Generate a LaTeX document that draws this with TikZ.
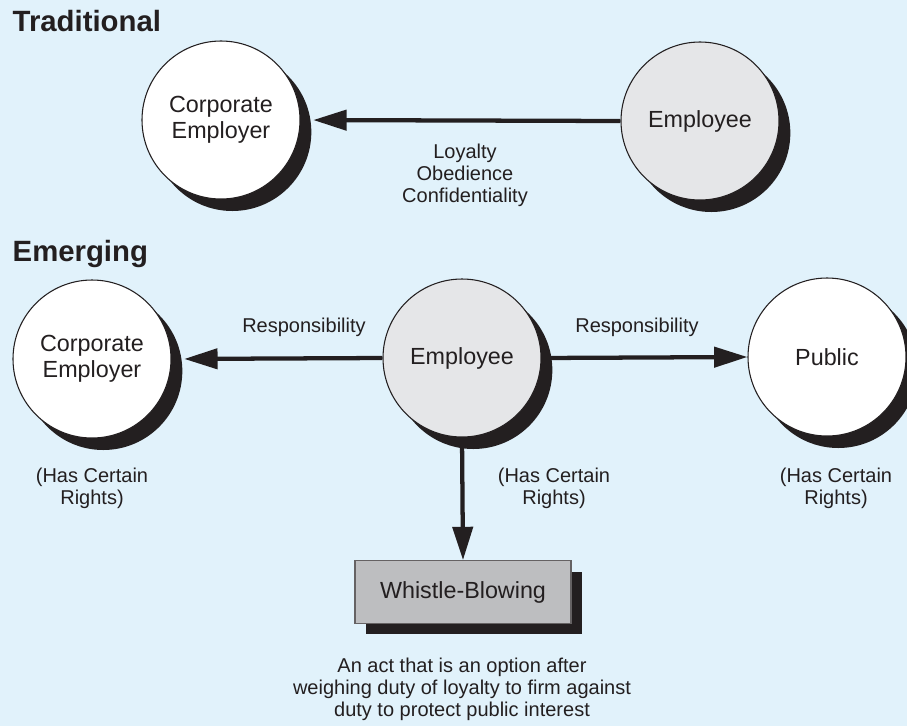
\documentclass[tikz,border=0pt]{standalone}
\usepackage{fontspec}
\setmainfont{Liberation Sans}
\usetikzlibrary{positioning, arrows.meta, shadows}
\definecolor{bgblue}{HTML}{E1F2FB}
\definecolor{ink}{HTML}{231F20}
\definecolor{empgray}{HTML}{E5E6E8}
\definecolor{boxgray}{HTML}{BDBEC0}

\begin{document}
\begin{tikzpicture}[
  x=0.75pt, y=-0.75pt,
  party/.style={circle, draw=ink, line width=0.8pt, fill=white,
    minimum size=118.5pt, inner sep=0pt, align=center, text=ink,
    font=\fontsize{17.5}{19.5}\selectfont,
    drop shadow={shadow xshift=8.5pt, shadow yshift=-9pt, fill=ink, opacity=1}},
  act/.style={rectangle, draw=ink!70, line width=0.8pt, fill=boxgray,
    minimum width=162pt, minimum height=47pt, text=ink,
    font=\fontsize{17.5}{19.5}\selectfont,
    drop shadow={shadow xshift=8.25pt, shadow yshift=-8.25pt, fill=ink, opacity=1}},
  lbl/.style={align=center, text=ink, font=\fontsize{15}{16.5}\selectfont},
  heading/.style={anchor=base west, text=ink, font=\fontsize{22}{26}\selectfont\bfseries},
  conn/.style={draw=ink, line width=3.2pt, -{Triangle[length=25pt, width=15pt]}},
]
  \useasboundingbox (0,0) rectangle (907,726);
  \clip (0,0) rectangle (907,726);
  \fill[bgblue] (0,0) rectangle (907,726);

  % traditional view
  \node[heading] (trad) at (8,31) {Traditional};
  \node[party] (tcorp) at (221,120) {Corporate\\Employer};
  \node[party, fill=empgray] (temp) at (700,121) {Employee};
  \draw[conn, shorten >=9.5pt] (temp.west) -- (tcorp.east);
  \node[lbl] (duties) at (465,175) {Loyalty\\Obedience\\Confidentiality};

  % emerging view
  \node[heading] (emer) at (8,261) {Emerging};
  \node[party] (ecorp) at (92,359) {Corporate\\Employer};
  \node[party, fill=empgray] (eemp) at (462,358) {Employee};
  \node[party] (pub) at (827,357) {Public};
  \node[act] (whistle) at (463,592) {Whistle-Blowing};

  \draw[conn, shorten >=9.5pt] (eemp.west) -- (ecorp.east);
  \draw[conn] (eemp.east) -- (pub.west);
  \draw[conn] (eemp.south) -- (whistle.north);

  \node[lbl] (resl) at (304,327) {Responsibility};
  \node[lbl] (resr) at (637,327) {Responsibility};
  \node[lbl] (rcorp) at (92,488) {(Has Certain\\Rights)};
  \node[lbl] (remp) at (554,488) {(Has Certain\\Rights)};
  \node[lbl] (rpub) at (836,488) {(Has Certain\\Rights)};
  \node[lbl] (note) at (462,689)
    {An act that is an option after\\weighing duty of loyalty to firm against\\duty to protect public interest};
\end{tikzpicture}
\end{document}
